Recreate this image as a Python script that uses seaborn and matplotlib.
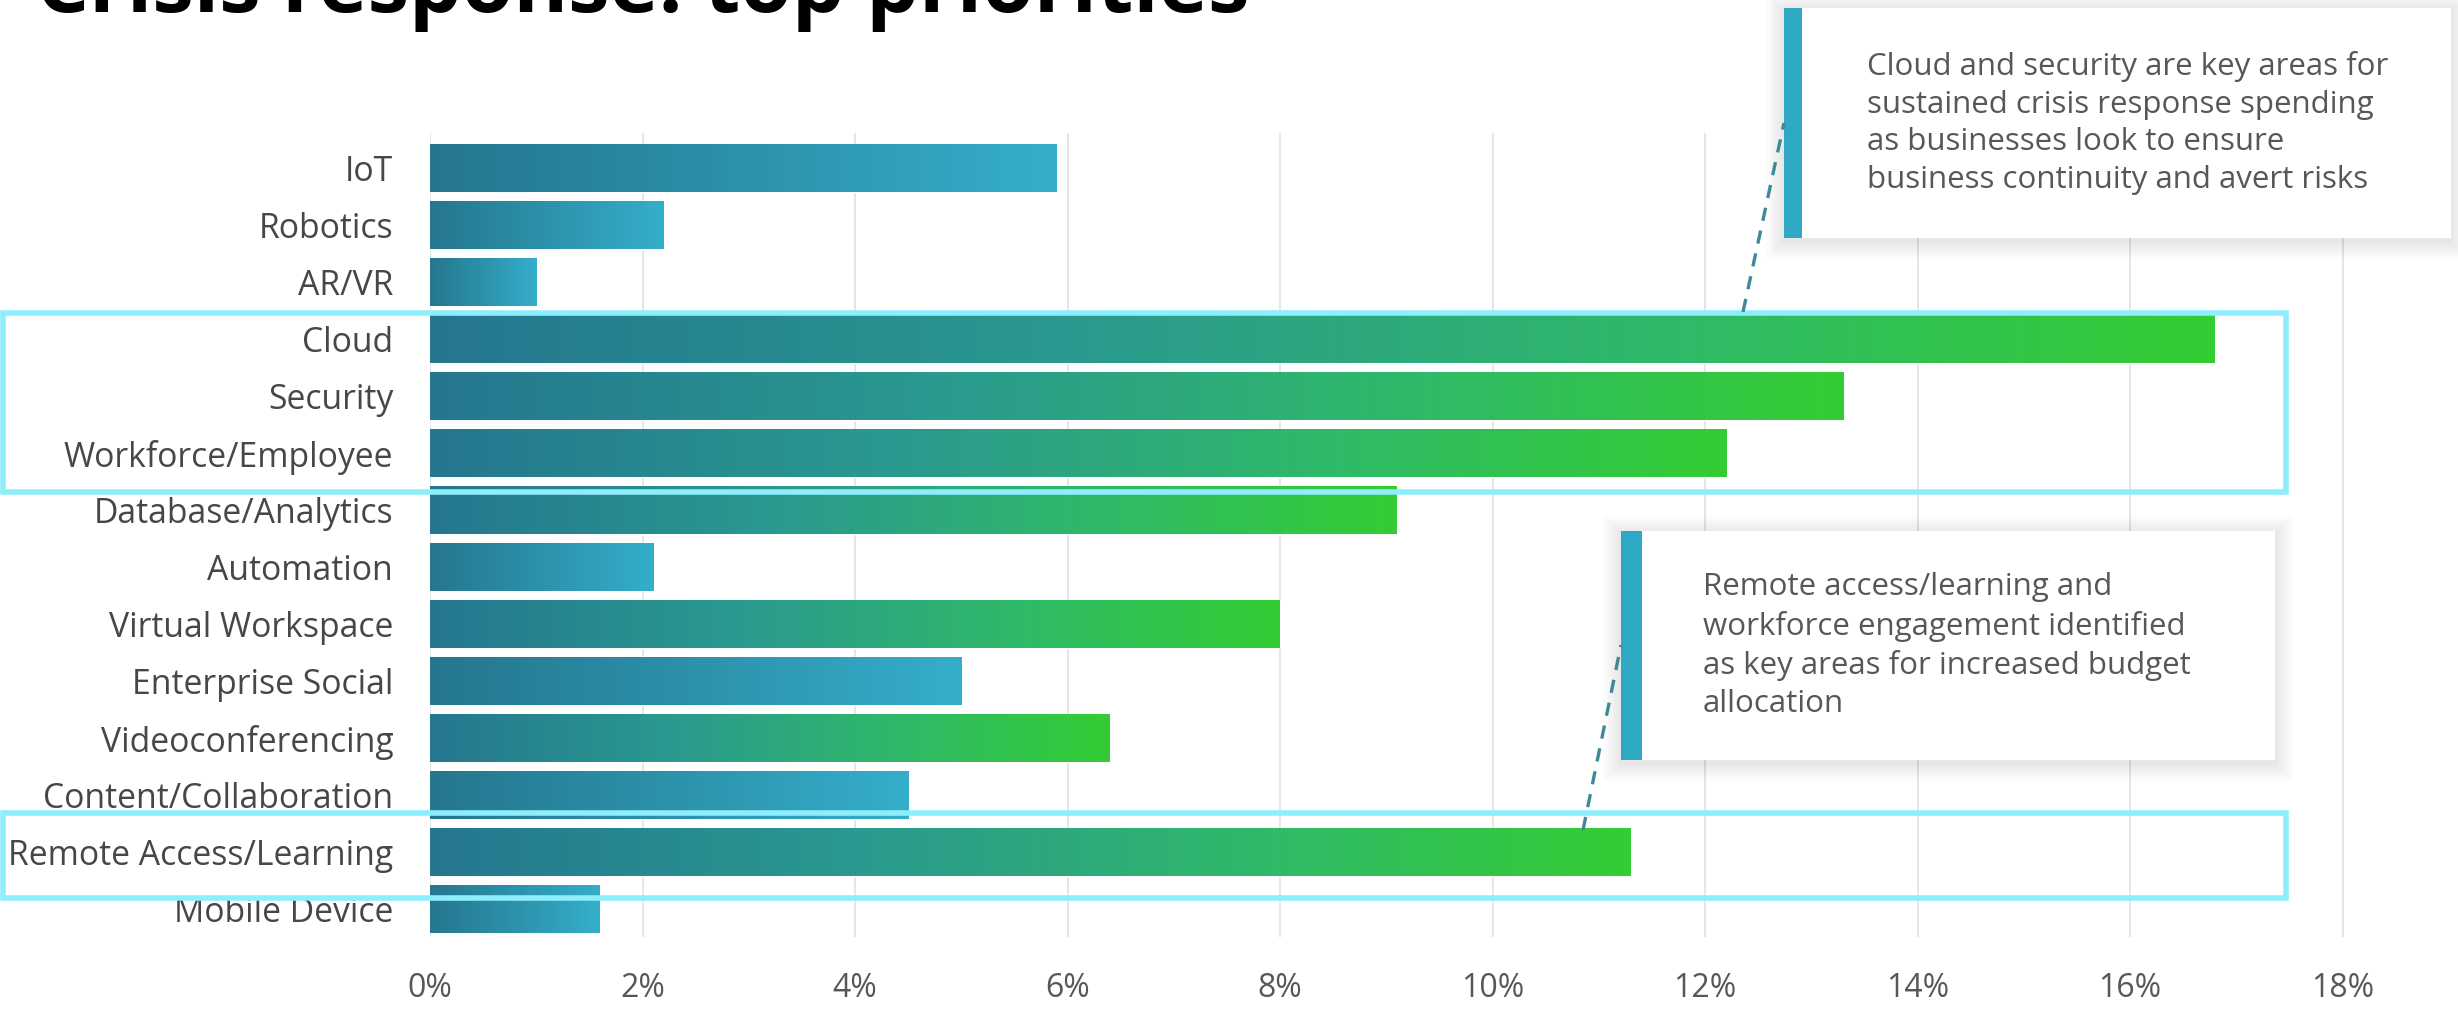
import numpy as np
import pandas as pd
import matplotlib.pyplot as plt
import seaborn as sns
from matplotlib.colors import LinearSegmentedColormap
from matplotlib.patches import Rectangle
from matplotlib.lines import Line2D

# Data
categories = ["IoT", "Robotics", "AR/VR", "Cloud", "Security", "Workforce/Employee",
              "Database/Analytics", "Automation", "Virtual Workspace", "Enterprise Social",
              "Videoconferencing", "Content/Collaboration", "Remote Access/Learning",
              "Mobile Device"]
shares = [5.9, 2.2, 1.0, 16.8, 13.3, 12.2, 9.1, 2.1, 8.0, 5.0, 6.4, 4.5, 11.3, 1.6]
tones = ["blue", "blue", "blue", "green", "green", "green", "green", "blue",
         "green", "blue", "green", "blue", "green", "blue"]
x_ticks = [0, 2, 4, 6, 8, 10, 12, 14, 16, 18]

note_cloud = ("Cloud and security are key areas for\n"
              "sustained crisis response spending\n"
              "as businesses look to ensure\n"
              "business continuity and avert risks")
note_remote = ("Remote access/learning and\n"
               "workforce engagement identified\n"
               "as key areas for increased budget\n"
               "allocation")

df = pd.DataFrame({"category": categories, "share": shares, "tone": tones})

W, H = 2458, 1009


def fx(px):
    return px / W


def fy(py):
    return 1 - py / H


sns.set_style("white")
plt.rcParams["font.family"] = ["Open Sans", "DejaVu Sans"]

fig = plt.figure(figsize=(W / 100, H / 100), dpi=100)
ax = fig.add_axes([fx(430), fy(937), 19 * 106.25 / W, (937 - 133) / H])

sns.barplot(data=df, x="share", y="category", orient="h", width=0.84,
            color="#2a8da6", ax=ax, zorder=2)

# gradient fill for each bar
cmaps = {
    "blue": LinearSegmentedColormap.from_list(
        "blue", [(0, "#25778e"), (0.45, "#2c8fa8"), (1, "#35aeca")]),
    "green": LinearSegmentedColormap.from_list(
        "green", [(0, "#25778f"), (0.35, "#2a9990"), (0.7, "#30b968"), (1, "#34cc34")]),
}
grad = np.linspace(0, 1, 256)[None, :]
for patch, tone in zip(ax.patches, tones):
    x0, y0 = patch.get_x(), patch.get_y()
    w, h = patch.get_width(), patch.get_height()
    im = ax.imshow(grad, cmap=cmaps[tone], extent=[x0, x0 + w, y0 + h, y0],
                   aspect="auto", zorder=3, interpolation="bilinear")
    im.set_clip_path(patch)

ax.set_xlim(0, 19)
ax.set_ylim(13.49, -0.614)
ax.set_xticks(x_ticks)
ax.set_xticklabels([f"{t}%" for t in x_ticks])
ax.grid(axis="x", color="#e4e4e4", lw=1.3)
ax.set_axisbelow(True)
sns.despine(ax=ax, left=True, bottom=True)
ax.tick_params(axis="y", length=0, pad=26.5, labelsize=24.3, labelcolor="#474747")
ax.tick_params(axis="x", length=0, pad=25, labelsize=23, labelcolor="#575757")
ax.set_xlabel("")
ax.set_ylabel("")

# title, cut off at the top like the reference
fig.text(fx(36), fy(12), "Crisis response: top priorities", fontsize=60,
         fontweight="bold", va="baseline", ha="left", color="black")


def note_box(x0, y0, x1, y1, stripe_w, text_x, text, zorder=20):
    # soft shadow
    for k in range(1, 9):
        e = 2.2 * k
        fig.add_artist(Rectangle((fx(x0 - e), fy(y1 + e + 3)), (x1 - x0 + 2 * e) / W,
                                 (y1 - y0 + 2 * e) / H, transform=fig.transFigure,
                                 facecolor="black", edgecolor="none", alpha=0.012,
                                 zorder=zorder))
    fig.add_artist(Rectangle((fx(x0), fy(y1)), (x1 - x0) / W, (y1 - y0) / H,
                             transform=fig.transFigure, facecolor="white",
                             edgecolor="none", zorder=zorder + 1))
    fig.add_artist(Rectangle((fx(x0), fy(y1)), stripe_w / W, (y1 - y0) / H,
                             transform=fig.transFigure, facecolor="#2fa8c3",
                             edgecolor="none", zorder=zorder + 2))
    fig.text(fx(text_x), fy((y0 + y1) / 2), text, fontsize=22.5, color="#575757",
             va="center", ha="left", linespacing=1.34, zorder=zorder + 3)


def dashed(p0, p1):
    fig.add_artist(Line2D([fx(p0[0]), fx(p1[0])], [fy(p0[1]), fy(p1[1])],
                          transform=fig.transFigure, color="#3e8a98", lw=2.4,
                          dashes=(4, 3), zorder=25))


# highlight frames
for top, bottom in [(313, 492), (813, 898)]:
    fig.add_artist(Rectangle((fx(2.5), fy(bottom)), (2286 - 2.5) / W, (bottom - top) / H,
                             transform=fig.transFigure, facecolor="none",
                             edgecolor="#8eeefd", lw=4, zorder=15))

note_box(1784, 8, 2451, 238, 18, 1867, note_cloud)
note_box(1621, 531, 2275, 760, 21, 1703, note_remote)
dashed((1743, 312), (1784, 123))
dashed((1583, 830), (1621, 645))

fig.savefig("out.png", dpi=100, facecolor="white")
